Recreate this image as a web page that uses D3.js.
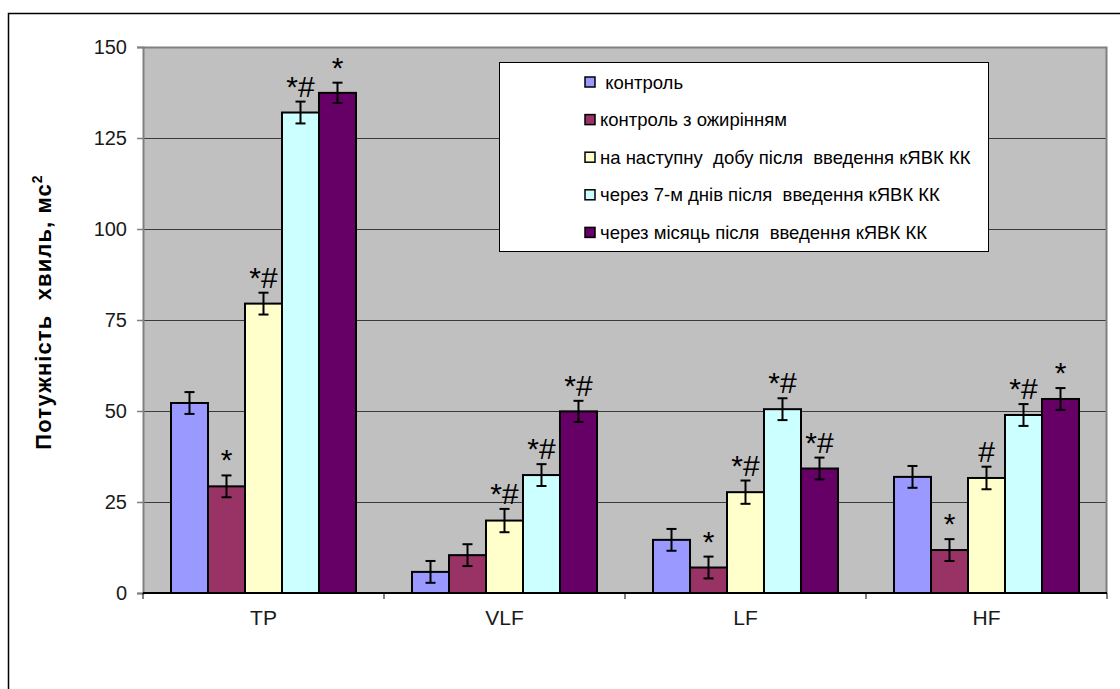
<!DOCTYPE html>
<html>
<head>
<meta charset="utf-8">
<script src="https://cdn.jsdelivr.net/npm/d3@7"></script>
<style>
  html, body { margin: 0; padding: 0; background: #fff; }
  svg { display: block; font-family: "Liberation Sans", Arial, sans-serif; }
</style>
</head>
<body>
<svg id="chart" width="1120" height="689"></svg>
<script>
// Wave power by HRV spectral band, five study groups
const categories = ["TP", "VLF", "LF", "HF"];
const seriesNames = [
  " контроль",
  "контроль з ожирінням",
  "на наступну  добу після  введення кЯВК КК",
  "через 7-м днів після  введення кЯВК КК",
  "через місяць після  введення кЯВК КК"
];
const seriesColors = ["#9999FF", "#993366", "#FFFFCC", "#CCFFFF", "#660066"];

// mean values per series, in category order TP, VLF, LF, HF
const control        = [52.2, 5.8, 14.6, 31.9];
const controlObese   = [29.3, 10.4, 7.0, 11.8];
const nextDay        = [79.5, 19.9, 27.7, 31.6];
const after7Days     = [132.0, 32.4, 50.5, 48.9];
const afterMonth     = [137.4, 49.9, 34.2, 53.3];
const seriesValues = [control, controlObese, nextDay, after7Days, afterMonth];

// error half-widths
const errControl      = [3, 3, 3, 3];
const errControlObese = [3, 3, 3, 3];
const errNextDay      = [3, 3.2, 3.2, 3.1];
const errAfter7Days   = [3, 3, 3, 3];
const errAfterMonth   = [2.8, 2.9, 3, 3];
const seriesErrors = [errControl, errControlObese, errNextDay, errAfter7Days, errAfterMonth];

// significance marks per series
const marksControl      = ["", "", "", ""];
const marksControlObese = ["*", "", "*", "*"];
const marksNextDay      = ["*#", "*#", "*#", "#"];
const marksAfter7Days   = ["*#", "*#", "*#", "*#"];
const marksAfterMonth   = ["*", "*#", "*#", "*"];
const seriesMarks = [marksControl, marksControlObese, marksNextDay, marksAfter7Days, marksAfterMonth];

const yTicks = [0, 25, 50, 75, 100, 125, 150];
const yTitle = "Потужність  хвиль, мс";

const svg = d3.select("#chart");

// outer frame
svg.append("rect")
  .attr("x", 8.5).attr("y", 13.5)
  .attr("width", 1130).attr("height", 700)
  .attr("fill", "none").attr("stroke", "#000").attr("stroke-width", 1.5);

const plot = { left: 143, right: 1107, top: 47, bottom: 593 };

const y = d3.scaleLinear().domain([0, 150]).range([plot.bottom, plot.top]);
const x0 = d3.scaleBand().domain(categories).range([plot.left, plot.right]).padding(0);
const x1 = d3.scaleBand().domain(d3.range(seriesNames.length))
  .range([0, x0.bandwidth()]).paddingInner(0).paddingOuter(0.757);

// plot background
svg.append("rect")
  .attr("x", plot.left).attr("y", plot.top)
  .attr("width", plot.right - plot.left).attr("height", plot.bottom - plot.top)
  .attr("fill", "#C0C0C0");

// horizontal gridlines
svg.append("g").selectAll("line")
  .data(yTicks.filter(t => t > 0 && t < 150))
  .join("line")
  .attr("x1", plot.left).attr("x2", plot.right)
  .attr("y1", d => Math.round(y(d)) + 0.5).attr("y2", d => Math.round(y(d)) + 0.5)
  .attr("stroke", "#3a3a3a").attr("stroke-width", 1.2);

// top and right frame of plot area
svg.append("path")
  .attr("d", `M${plot.left},${plot.top + 0.5}H${plot.right - 0.5}V${plot.bottom}`)
  .attr("fill", "none").attr("stroke", "#808080").attr("stroke-width", 2);

// bars
const groups = svg.append("g").selectAll("g")
  .data(categories)
  .join("g")
  .attr("transform", d => `translate(${x0(d)},0)`);

const barData = (c, ci) => seriesValues.map((vals, si) => ({
  si, value: vals[ci], err: seriesErrors[si][ci], mark: seriesMarks[si][ci]
}));

groups.selectAll("rect")
  .data((c, ci) => barData(c, ci))
  .join("rect")
  .attr("x", d => x1(d.si))
  .attr("y", d => y(d.value))
  .attr("width", x1.bandwidth())
  .attr("height", d => y(0) - y(d.value))
  .attr("fill", d => seriesColors[d.si])
  .attr("stroke", "#000").attr("stroke-width", 2);

// error bars
const eb = groups.selectAll("g.err")
  .data((c, ci) => barData(c, ci))
  .join("g").attr("class", "err")
  .attr("stroke", "#000").attr("stroke-width", 2);
eb.append("line")
  .attr("x1", d => x1(d.si) + x1.bandwidth() / 2).attr("x2", d => x1(d.si) + x1.bandwidth() / 2)
  .attr("y1", d => y(d.value + d.err)).attr("y2", d => y(d.value - d.err));
eb.append("line")
  .attr("x1", d => x1(d.si) + x1.bandwidth() / 2 - 5).attr("x2", d => x1(d.si) + x1.bandwidth() / 2 + 5)
  .attr("y1", d => y(d.value + d.err)).attr("y2", d => y(d.value + d.err));
eb.append("line")
  .attr("x1", d => x1(d.si) + x1.bandwidth() / 2 - 5).attr("x2", d => x1(d.si) + x1.bandwidth() / 2 + 5)
  .attr("y1", d => y(d.value - d.err)).attr("y2", d => y(d.value - d.err));

// significance marks
groups.selectAll("text.mark")
  .data((c, ci) => barData(c, ci).filter(d => d.mark))
  .join("text").attr("class", "mark")
  .attr("x", d => x1(d.si) + x1.bandwidth() / 2)
  .attr("y", d => y(d.value + d.err) - 5)
  .attr("text-anchor", "middle")
  .attr("font-size", 30)
  .attr("fill", "#000")
  .text(d => d.mark);

// y axis
const yAxis = d3.axisLeft(y).tickValues(yTicks).tickSize(6).tickPadding(10);
const gy = svg.append("g").attr("transform", `translate(${plot.left},0)`).call(yAxis);
gy.select(".domain").attr("stroke", "#808080").attr("stroke-width", 2);
gy.selectAll(".tick line").attr("stroke", "#808080").attr("stroke-width", 1.5);
gy.selectAll(".tick text")
  .attr("font-size", 20).attr("fill", "#1a1a1a")
  .attr("font-family", "'Liberation Sans', Arial, sans-serif");

// x axis
const xAxis = d3.axisBottom(x0).tickSize(0).tickPadding(0);
const gx = svg.append("g").attr("transform", `translate(0,${plot.bottom})`).call(xAxis);
gx.select(".domain").remove();
gx.selectAll(".tick text")
  .attr("y", 32).attr("dy", 0)
  .attr("font-size", 21).attr("fill", "#1a1a1a")
  .attr("font-family", "'Liberation Sans', Arial, sans-serif");
svg.append("line")
  .attr("x1", plot.left).attr("x2", plot.right)
  .attr("y1", plot.bottom).attr("y2", plot.bottom)
  .attr("stroke", "#000").attr("stroke-width", 2);
const boundaries = categories.map(c => x0(c)).concat([plot.right]);
svg.append("g").selectAll("line")
  .data(boundaries)
  .join("line")
  .attr("x1", d => d).attr("x2", d => d)
  .attr("y1", plot.bottom).attr("y2", plot.bottom + 6)
  .attr("stroke", "#000").attr("stroke-width", 1);

// y title
const yt = svg.append("text")
  .attr("transform", "translate(51,312) rotate(-90)")
  .attr("text-anchor", "middle")
  .attr("font-size", 22).attr("font-weight", "bold").attr("fill", "#000")
  .attr("letter-spacing", 1.1)
  .style("white-space", "pre");
yt.append("tspan").text(yTitle);
yt.append("tspan").attr("dy", -9).attr("font-size", 14).text("2");

// legend
const legend = { x: 499, y: 62, w: 489, h: 189, rowY0: 82, rowStep: 37.6 };
svg.append("rect")
  .attr("x", legend.x + 0.5).attr("y", legend.y + 0.5)
  .attr("width", legend.w).attr("height", legend.h)
  .attr("fill", "#fff").attr("stroke", "#000").attr("stroke-width", 1);
const lg = svg.append("g").selectAll("g")
  .data(seriesNames)
  .join("g")
  .attr("transform", (d, i) => `translate(585,${legend.rowY0 + i * legend.rowStep})`);
lg.append("rect")
  .attr("x", 0).attr("y", -5).attr("width", 10).attr("height", 10)
  .attr("fill", (d, i) => seriesColors[i]).attr("stroke", "#000").attr("stroke-width", 1.5);
lg.append("text")
  .attr("x", 15).attr("y", 6.5)
  .attr("font-size", 18.5).attr("fill", "#000")
  .style("white-space", "pre")
  .text(d => d);
</script>
</body>
</html>
